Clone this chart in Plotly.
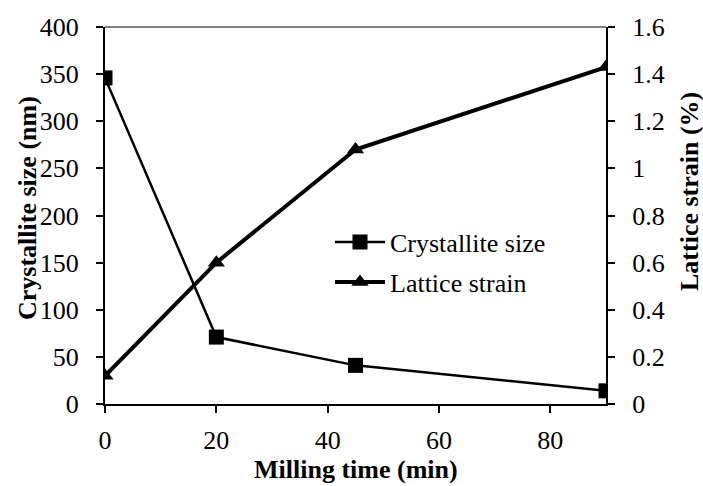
import plotly.graph_objects as go

milling_time = [0, 20, 45, 90]
crystallite_size = [346, 71, 41, 14]
lattice_strain = [0.12, 0.60, 1.08, 1.43]

x_ticks = [0, 20, 40, 60, 80]
y_left_ticks = [0, 50, 100, 150, 200, 250, 300, 350, 400]
y_right_ticks = [0, 0.2, 0.4, 0.6, 0.8, 1.0, 1.2, 1.4, 1.6]
y_right_labels = ["0", "0.2", "0.4", "0.6", "0.8", "1", "1.2", "1.4", "1.6"]

FONT = "Liberation Serif, Times New Roman, serif"

fig = go.Figure()
fig.add_trace(go.Scatter(
    x=milling_time, y=crystallite_size, name="Crystallite size",
    mode="lines+markers",
    line=dict(color="black", width=2.5),
    marker=dict(symbol="square", size=15, color="black"),
    yaxis="y", legend="legend",
))
fig.add_trace(go.Scatter(
    x=milling_time, y=lattice_strain, name="Lattice strain",
    mode="lines+markers",
    line=dict(color="black", width=4),
    marker=dict(symbol="triangle-up", size=15, color="black"),
    yaxis="y2", legend="legend2",
))

axis_common = dict(
    showgrid=False, zeroline=False, showline=True, linecolor="black", linewidth=2,
    ticks="outside", ticklen=7, tickwidth=1.5, tickcolor="black",
    tickfont=dict(family=FONT, size=26, color="black"),
)

fig.update_layout(
    width=703, height=486,
    margin=dict(l=105, r=97, t=27, b=82),
    paper_bgcolor="white", plot_bgcolor="white",
    font=dict(family=FONT, size=26, color="black"),
    xaxis=dict(range=[0, 90], tickvals=x_ticks, ticklabelstandoff=5, **axis_common),
    yaxis=dict(range=[0, 400], tickvals=y_left_ticks, ticklabelstandoff=12, **axis_common),
    yaxis2=dict(range=[0, 1.6], tickvals=y_right_ticks, ticktext=y_right_labels,
                overlaying="y", side="right", ticklabelstandoff=12, **axis_common),
    legend=dict(x=(330 - 105) / 501, y=(404 - 242) / 377, xanchor="left", yanchor="middle",
                bgcolor="rgba(0,0,0,0)", font=dict(family=FONT, size=26), itemwidth=50,
                borderwidth=0),
    legend2=dict(x=(330 - 105) / 501, y=(404 - 282) / 377, xanchor="left", yanchor="middle",
                 bgcolor="rgba(0,0,0,0)", font=dict(family=FONT, size=26), itemwidth=50,
                 borderwidth=0),
    showlegend=True,
    shapes=[dict(type="line", xref="paper", yref="paper", x0=0, x1=1, y0=1, y1=1,
                 line=dict(color="black", width=1))],
    annotations=[
        dict(text="<b>Crystallite size (nm)</b>", xref="paper", yref="paper",
             x=(27 - 105) / 501, y=(404 - 208) / 377, textangle=-90, showarrow=False,
             xanchor="center", yanchor="middle", font=dict(family=FONT, size=26)),
        dict(text="<b>Lattice strain (%)</b>", xref="paper", yref="paper",
             x=(689 - 105) / 501, y=(404 - 192) / 377, textangle=-90, showarrow=False,
             xanchor="center", yanchor="middle", font=dict(family=FONT, size=26)),
        dict(text="<b>Milling time (min)</b>", xref="paper", yref="paper",
             x=0.5, y=(404 - 486) / 377, showarrow=False,
             xanchor="center", yanchor="bottom", font=dict(family=FONT, size=26)),
    ],
)

fig.write_html("out.html")
